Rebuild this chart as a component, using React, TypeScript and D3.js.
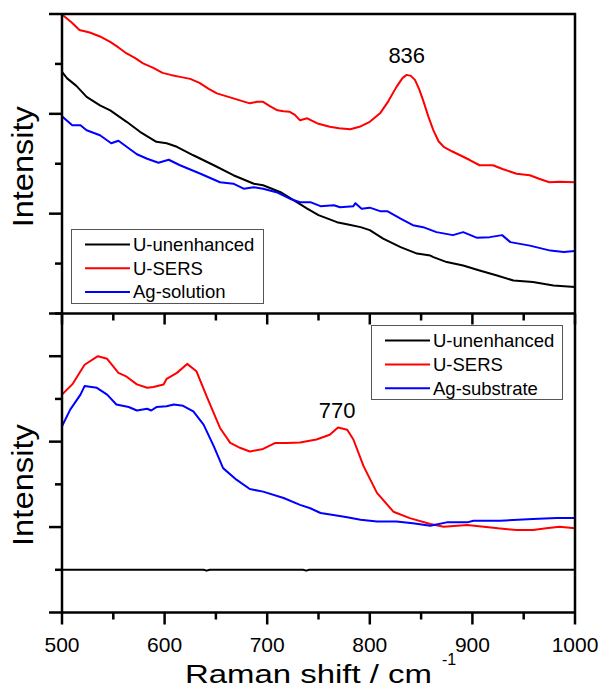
import React from "react";
import * as d3 from "d3";

// ---------- DATA ----------
// Top panel (arbitrary intensity units, 6 tick intervals)
const topUnenhancedX = [500, 505, 514, 524, 537, 547, 563, 576, 592, 602, 612, 628, 648, 667, 687, 696, 713, 732, 739, 750, 768, 780, 791, 800, 813, 830, 846, 859, 862, 875, 891, 907, 924, 940, 959, 979, 1000];
const topUnenhancedY = [4.84, 4.71, 4.56, 4.34, 4.17, 4.07, 3.84, 3.64, 3.44, 3.41, 3.34, 3.17, 2.97, 2.77, 2.60, 2.57, 2.43, 2.19, 2.10, 1.97, 1.83, 1.78, 1.73, 1.67, 1.50, 1.33, 1.20, 1.16, 1.13, 1.03, 0.96, 0.86, 0.76, 0.66, 0.63, 0.56, 0.53];

const topSersX = [500, 510, 517, 527, 537, 547, 555, 563, 571, 579, 589, 598, 606, 615, 625, 634, 643, 651, 659, 667, 675, 683, 690, 696, 703, 710, 716, 722, 727, 732, 739, 750, 761, 770, 781, 790, 800, 810, 818, 826, 832, 836, 840, 844, 848, 852, 857, 862, 867, 872, 880, 888, 897, 907, 920, 930, 943, 956, 965, 975, 985, 1000];
const topSersY = [5.99, 5.82, 5.68, 5.63, 5.55, 5.44, 5.33, 5.21, 5.12, 5.01, 4.92, 4.82, 4.78, 4.74, 4.70, 4.62, 4.50, 4.41, 4.36, 4.31, 4.26, 4.21, 4.24, 4.24, 4.15, 4.07, 4.05, 4.04, 3.98, 3.87, 3.91, 3.80, 3.74, 3.71, 3.69, 3.74, 3.84, 4.01, 4.25, 4.54, 4.72, 4.78, 4.76, 4.68, 4.50, 4.27, 3.95, 3.67, 3.45, 3.34, 3.25, 3.17, 3.08, 2.97, 2.97, 2.89, 2.80, 2.77, 2.70, 2.63, 2.64, 2.63];

const topAgX = [500, 510, 518, 524, 537, 548, 555, 563, 573, 583, 594, 604, 615, 635, 654, 667, 677, 687, 696, 709, 722, 732, 742, 752, 765, 771, 784, 786, 792, 800, 810, 817, 830, 842, 852, 865, 881, 891, 904, 917, 929, 937, 956, 976, 989, 1000];
const topAgY = [3.95, 3.77, 3.77, 3.67, 3.57, 3.41, 3.46, 3.34, 3.19, 3.10, 3.02, 3.08, 2.97, 2.80, 2.63, 2.60, 2.50, 2.53, 2.50, 2.43, 2.30, 2.23, 2.23, 2.15, 2.17, 2.13, 2.15, 2.21, 2.10, 2.12, 2.05, 2.05, 1.90, 1.77, 1.73, 1.63, 1.57, 1.63, 1.52, 1.53, 1.57, 1.43, 1.36, 1.26, 1.23, 1.25];

// Bottom panel (arbitrary intensity units, 7 tick intervals)
const botUnenhancedX = [500, 600, 638, 641, 644, 735, 738, 741, 800, 900, 1000];
const botUnenhancedY = [1.0, 1.0, 1.0, 0.98, 1.0, 1.0, 0.98, 1.0, 1.0, 1.0, 1.0];

const botSersX = [500, 510, 522, 535, 544, 555, 563, 573, 583, 589, 599, 602, 612, 622, 631, 641, 654, 664, 674, 683, 696, 708, 719, 732, 748, 761, 769, 778, 784, 794, 807, 823, 839, 859, 872, 895, 911, 925, 943, 959, 972, 985, 1000];
const botSersY = [5.10, 5.34, 5.80, 6.00, 5.94, 5.61, 5.52, 5.34, 5.26, 5.28, 5.34, 5.47, 5.61, 5.82, 5.65, 5.06, 4.32, 3.97, 3.85, 3.77, 3.83, 3.97, 3.97, 3.98, 4.05, 4.16, 4.33, 4.28, 4.05, 3.42, 2.80, 2.36, 2.21, 2.07, 2.01, 2.05, 2.01, 1.97, 1.93, 1.93, 1.97, 2.01, 1.97];

const botAgX = [500, 508, 518, 522, 534, 544, 553, 565, 573, 583, 587, 592, 602, 609, 618, 628, 638, 648, 657, 670, 683, 696, 716, 732, 742, 752, 763, 778, 791, 807, 826, 842, 859, 875, 895, 901, 927, 959, 982, 1000];
const botAgY = [4.36, 4.75, 5.10, 5.30, 5.26, 5.10, 4.87, 4.81, 4.73, 4.77, 4.73, 4.81, 4.83, 4.87, 4.84, 4.71, 4.40, 3.89, 3.38, 3.11, 2.89, 2.83, 2.68, 2.52, 2.44, 2.33, 2.29, 2.23, 2.17, 2.13, 2.13, 2.09, 2.03, 2.11, 2.11, 2.15, 2.15, 2.19, 2.21, 2.21];

const xTickValues = [500, 550, 600, 650, 700, 750, 800, 850, 900, 950, 1000];
const xTickLabels = [500, 600, 700, 800, 900, 1000];
const topYTicks = [0, 1, 2, 3, 4, 5, 6];
const botYTicks = [0, 1, 2, 3, 4, 5, 6, 7];
const legendTopNames = ["U-unenhanced", "U-SERS", "Ag-solution"];
const legendBottomNames = ["U-unenhanced", "U-SERS", "Ag-substrate"];
const seriesColors = ["#000000", "#ff0000", "#0000ff"];
const peakTop = { x: 836, y: 4.78, label: "836" };
const peakBottom = { x: 770, y: 4.33, label: "770" };

// ---------- LAYOUT ----------
const W = 599;
const H = 688;
const left = 62;
const right = 575;
const topTop = 14;
const mid = 313.5;
const botBottom = 612.5;
const FONT = "'Liberation Sans', Arial, Helvetica, sans-serif";
const AXW = 2.5;

const x = d3.scaleLinear().domain([500, 1000]).range([left, right]);
const yTop = d3.scaleLinear().domain([0, 6]).range([mid, topTop]);
const yBot = d3.scaleLinear().domain([0, 7]).range([botBottom, mid]);

function zip(xs: number[], ys: number[]): [number, number][] {
  return xs.map((v, i) => [v, ys[i]] as [number, number]);
}

export default function App() {
  const lineTop = d3
    .line<[number, number]>()
    .x((d) => x(d[0]))
    .y((d) => yTop(d[1]));
  const lineBot = d3
    .line<[number, number]>()
    .x((d) => x(d[0]))
    .y((d) => yBot(d[1]));

  const topSeries = [
    zip(topUnenhancedX, topUnenhancedY),
    zip(topSersX, topSersY),
    zip(topAgX, topAgY),
  ];
  const botSeries = [
    zip(botUnenhancedX, botUnenhancedY),
    zip(botSersX, botSersY),
    zip(botAgX, botAgY),
  ];

  const isMajorX = (v: number) => v % 100 === 0;

  return (
    <svg
      width={W}
      height={H}
      style={{ position: "absolute", left: 0, top: 0, background: "#fff" }}
      fontFamily={FONT}
    >
      <rect x={0} y={0} width={W} height={H} fill="#fff" />
      <defs>
        <clipPath id="clipTop">
          <rect x={left} y={topTop} width={right - left} height={mid - topTop} />
        </clipPath>
        <clipPath id="clipBot">
          <rect x={left} y={mid} width={right - left} height={botBottom - mid} />
        </clipPath>
      </defs>

      {/* data lines */}
      <g clipPath="url(#clipTop)">
        {topSeries.map((s, i) => (
          <path key={i} d={lineTop(s) || ""} fill="none" stroke={seriesColors[i]} strokeWidth={2} strokeLinejoin="round" />
        ))}
      </g>
      <g clipPath="url(#clipBot)">
        {botSeries.map((s, i) => (
          <path key={i} d={lineBot(s) || ""} fill="none" stroke={seriesColors[i]} strokeWidth={2} strokeLinejoin="round" />
        ))}
      </g>

      {/* frames */}
      <g stroke="#000" strokeWidth={AXW} fill="none">
        <line x1={left} x2={left} y1={topTop - 1} y2={botBottom} />
        <line x1={right} x2={right} y1={topTop - 1} y2={botBottom} />
        <line x1={left} x2={right + 1} y1={topTop} y2={topTop} />
        <line x1={left} x2={right + 1} y1={mid} y2={mid} />
        <line x1={left} x2={right + 1} y1={botBottom} y2={botBottom} />
      </g>

      {/* ticks */}
      <g stroke="#000" strokeWidth={AXW}>
        {topYTicks.map((t) => (
          <line key={"ty" + t} x1={left - (t % 2 === 0 ? 13 : 7)} x2={left} y1={yTop(t)} y2={yTop(t)} />
        ))}
        {botYTicks.map((t) => (
          <line key={"by" + t} x1={left - (t % 2 === 0 ? 13 : 7)} x2={left} y1={yBot(t)} y2={yBot(t)} />
        ))}
        {xTickValues.map((v) => (
          <line key={"mx" + v} x1={x(v)} x2={x(v)} y1={mid} y2={mid + (isMajorX(v) ? 11 : 7)} />
        ))}
        {xTickValues.map((v) => (
          <line key={"bx" + v} x1={x(v)} x2={x(v)} y1={botBottom} y2={botBottom + (isMajorX(v) ? 12 : 7)} />
        ))}
      </g>

      {/* x tick labels */}
      <g fontSize={21} fill="#000" textAnchor="middle">
        {xTickLabels.map((v) => (
          <text key={"xl" + v} x={x(v)} y={652}>
            {v}
          </text>
        ))}
      </g>

      {/* axis titles */}
      <text x={185} y={683} fontSize={26} textLength={247} lengthAdjust="spacingAndGlyphs" fill="#000">
        Raman shift / cm
      </text>
      <text x={442} y={665} fontSize={16} fill="#000">
        -1
      </text>
      <text
        transform={`translate(33,${(yTop(6) + yTop(0)) / 2 + 3}) rotate(-90)`}
        fontSize={30}
        textAnchor="middle"
        textLength={121}
        lengthAdjust="spacingAndGlyphs"
        fill="#000"
      >
        Intensity
      </text>
      <text
        transform={`translate(33,${(yBot(7) + yBot(0)) / 2 + 22}) rotate(-90)`}
        fontSize={30}
        textAnchor="middle"
        textLength={122}
        lengthAdjust="spacingAndGlyphs"
        fill="#000"
      >
        Intensity
      </text>

      {/* peak annotations */}
      <text x={x(peakTop.x)} y={yTop(peakTop.y) - 12} fontSize={22} textAnchor="middle" fill="#000">
        {peakTop.label}
      </text>
      <text x={x(peakBottom.x) - 2} y={yBot(peakBottom.y) - 10} fontSize={22} textAnchor="middle" fill="#000">
        {peakBottom.label}
      </text>

      {/* legend top */}
      <g>
        <rect x={71.5} y={229.5} width={192} height={74} fill="#fff" stroke="#555" strokeWidth={1} />
        {legendTopNames.map((n, i) => (
          <g key={"lt" + i}>
            <line x1={85} x2={130} y1={244.5 + i * 23.7} y2={244.5 + i * 23.7} stroke={seriesColors[i]} strokeWidth={2} />
            <text x={133} y={251 + i * 23.7} fontSize={18.5} fill="#000">
              {n}
            </text>
          </g>
        ))}
      </g>

      {/* legend bottom */}
      <g>
        <rect x={371.5} y={325.5} width={191} height={74} fill="#fff" stroke="#555" strokeWidth={1} />
        {legendBottomNames.map((n, i) => (
          <g key={"lb" + i}>
            <line x1={385} x2={430} y1={340.5 + i * 23.9} y2={340.5 + i * 23.9} stroke={seriesColors[i]} strokeWidth={2} />
            <text x={433} y={347 + i * 23.9} fontSize={18.5} fill="#000">
              {n}
            </text>
          </g>
        ))}
      </g>
    </svg>
  );
}
